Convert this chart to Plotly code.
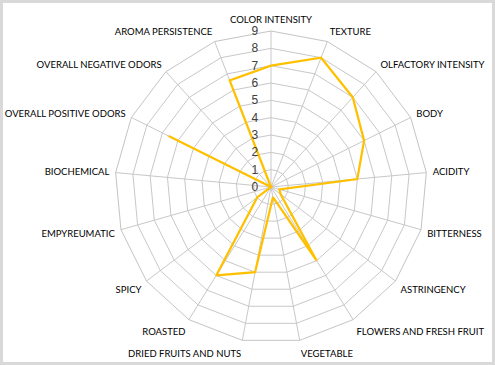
import plotly.graph_objects as go

categories = ["COLOR INTENSITY", "TEXTURE", "OLFACTORY INTENSITY", "BODY", "ACIDITY",
              "BITTERNESS", "ASTRINGENCY", "FLOWERS AND FRESH FRUIT", "VEGETABLE",
              "DRIED FRUITS AND NUTS", "ROASTED", "SPICY", "EMPYREUMATIC", "BIOCHEMICAL",
              "OVERALL POSITIVE ODORS", "OVERALL NEGATIVE ODORS", "AROMA PERSISTENCE"]
values = [7, 8, 7, 6, 5, 0.5, 0.7, 5, 0.6, 5, 6, 1, 0, 0, 6.6, 0, 6.6]
radial_ticks = [0, 1, 2, 3, 4, 5, 6, 7, 8, 9]

fig = go.Figure()
fig.add_trace(go.Scatterpolar(
    r=values + values[:1],
    theta=categories + categories[:1],
    mode="lines",
    line=dict(color="#FFC000", width=2.25),
    hoverinfo="skip",
    showlegend=False,
))

W, H = 495, 365
cx, cy, R = 271, 187, 156
fig.update_layout(
    width=W, height=H,
    margin=dict(l=0, r=0, t=0, b=0),
    paper_bgcolor="white",
    font=dict(family="Lato, Open Sans, sans-serif", color="#000000"),
    polar=dict(
        domain=dict(x=[(cx - R) / W, (cx + R) / W], y=[1 - (cy + R) / H, 1 - (cy - R) / H]),
        bgcolor="white",
        gridshape="linear",
        angularaxis=dict(
            direction="clockwise", rotation=90,
            linecolor="#C4C4C4", linewidth=1,
            gridcolor="#C8C8C8", gridwidth=1,
            showticklabels=True, ticks="outside", ticklen=4, tickcolor="rgba(0,0,0,0)",
            tickfont=dict(size=9.5, color="#000000", family="Lato, Open Sans, sans-serif"),
        ),
        radialaxis=dict(
            range=[0, 9], tickvals=radial_ticks, ticktext=[str(v) for v in radial_ticks],
            angle=90, tickangle=90, side="counterclockwise",
            showline=False, gridcolor="#C8C8C8", gridwidth=1,
            ticks="outside", ticklen=8, tickcolor="rgba(0,0,0,0)",
            tickfont=dict(size=12, color="#404040", family="Liberation Sans, Arial, sans-serif"),
        ),
    ),
    shapes=[dict(type="rect", xref="paper", yref="paper", x0=0, x1=1, y0=0, y1=1,
                 line=dict(color="#D9D9D9", width=6), fillcolor="rgba(0,0,0,0)")],
)

fig.write_html("out.html", config={"displayModeBar": False},
               post_script="document.body.style.margin='0';document.body.style.overflow='hidden';")
